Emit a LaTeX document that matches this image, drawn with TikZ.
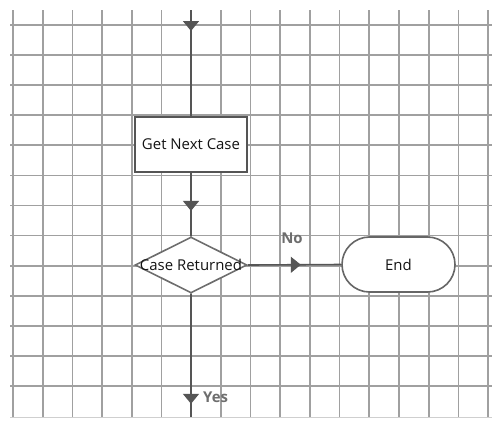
\documentclass[tikz,border=0pt]{standalone}
\usepackage{fontspec}
\setmainfont{Open Sans}
\usetikzlibrary{shapes.geometric,shapes.misc,arrows.meta,decorations.markings}
\definecolor{gridc}{HTML}{A0A0A0}
\definecolor{flowc}{HTML}{555555}
\definecolor{labc}{HTML}{6E6E6E}
\tikzset{
  gridline/.style={draw=gridc, line width=1.7bp},
  flow/.style={draw=flowc, line width=1.6bp},
  tipat/.style={postaction={decorate,decoration={markings,
     mark=at position #1 with {\arrow[flowc]{Triangle[width=16bp,length=10bp]}}}}},
  procbox/.style={rectangle, draw=flowc, line width=1.8bp, fill=white,
     minimum width=112bp, minimum height=55bp, inner sep=0pt,
     font=\fontsize{15}{17}\selectfont, text=black!92},
  decbox/.style={diamond, draw=flowc!85, line width=1.6bp, fill=white,
     minimum width=112bp, minimum height=56bp, inner sep=0pt,
     font=\fontsize{15}{17}\selectfont, text=black!92},
  termbox/.style={rounded rectangle, draw=flowc!90, line width=1.6bp, fill=white,
     minimum width=113bp, minimum height=55bp, inner sep=0pt,
     font=\fontsize{15}{17}\selectfont, text=black!92},
  lab/.style={font=\bfseries\fontsize{15}{17}\selectfont, text=labc, inner sep=0pt}
}
\begin{document}
\begin{tikzpicture}[x=1bp,y=-1bp]
\useasboundingbox (0,0) rectangle (499,426);
\fill[white] (0,0) rectangle (499,426);
% grid
\foreach \k in {0,...,16}{
  \draw[gridline] ({13+29.69*\k},10) -- ({13+29.69*\k},417);
}
\foreach \j in {0,...,12}{
  \draw[gridline] (10,{25+30.08*\j}) -- (492,{25+30.08*\j});
}
\draw[draw=gridc!50, line width=1bp] (10,417) -- (492,417);
% nodes
\coordinate (topin) at (191,10);
\coordinate (botout) at (191,417);
\node[procbox] (get) at (191,144.5) {Get Next Case};
\node[decbox] (dec) at (191,265) {\makebox[0pt]{Case Returned}};
\node[termbox] (end) at (398.5,264.5) {End};
% connectors
\draw[flow, tipat=21bp] (topin) -- (get.north);
\draw[flow, tipat=38bp] (get.south) -- (dec.north);
\draw[flow, tipat=53bp] (dec.east) -- (end.west);
\draw[flow, tipat=110bp] (dec.south) -- (botout);
% labels
\node[lab] (no) at (292,238) {No};
\node[lab, anchor=west] (yes) at (203,397) {Yes};
\end{tikzpicture}
\end{document}
